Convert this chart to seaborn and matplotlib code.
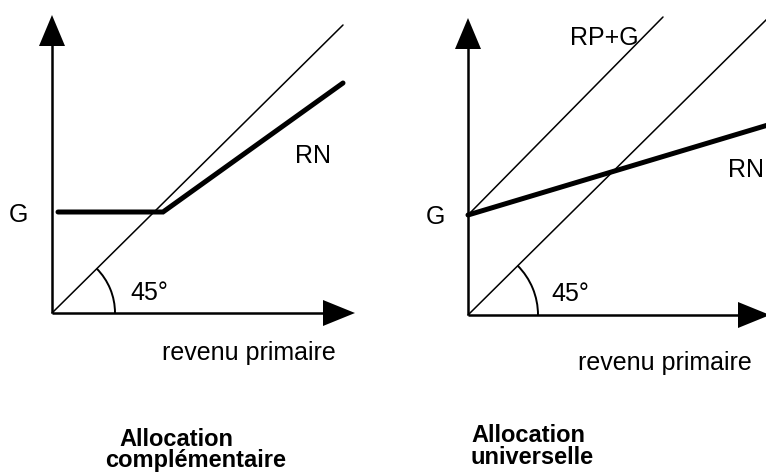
import matplotlib
matplotlib.use("Agg")
import matplotlib.pyplot as plt
import seaborn as sns
import pandas as pd
from matplotlib.patches import Polygon, Arc

sns.set_theme(style="white")
plt.rcParams['font.family'] = ['Liberation Sans', 'DejaVu Sans']
plt.rcParams['text.color'] = 'black'

# ---- data (panel coordinates: origin at axes corner, y upward, pixel units) ----
# Left panel: "Allocation complémentaire"
left_diag_x = [0, 291]
left_diag_y = [0, 288]
left_rn_x = [6, 111, 291]
left_rn_y = [101, 101, 230]
# Right panel: "Allocation universelle"
right_diag_x = [0, 300]
right_diag_y = [0, 297]
right_rpg_x = [0, 195]
right_rpg_y = [100, 298]
right_rn_x = [0, 300]
right_rn_y = [100, 190]

labels_axis = "revenu primaire"
title_left = ["Allocation", "complémentaire"]
title_right = ["Allocation", "universelle"]

W, H = 766, 476
fig = plt.figure(figsize=(W / 100, H / 100), dpi=100)
ax = fig.add_axes([0, 0, 1, 1])
ax.set_xlim(0, W)
ax.set_ylim(H, 0)
ax.axis("off")

O_L = (52, 313)
O_R = (468, 315)


def to_px(origin, xs, ys):
    return [origin[0] + x for x in xs], [origin[1] - y for y in ys]


def draw_line(origin, xs, ys, lw):
    px, py = to_px(origin, xs, ys)
    df = pd.DataFrame({"x": px, "y": py, "i": range(len(px))})
    sns.lineplot(data=df, x="x", y="y", sort=False, estimator=None, color="black",
                 lw=lw, ax=ax, solid_capstyle="round", solid_joinstyle="miter")


def axes_arrows(origin, ytip, xtip):
    ox, oy = origin
    ax.plot([ox, ox], [oy, ytip + 25], color="black", lw=1.8, solid_capstyle="butt")
    ax.plot([ox, xtip - 25], [oy, oy], color="black", lw=1.8, solid_capstyle="butt")
    ax.add_patch(Polygon([[ox, ytip], [ox - 13, ytip + 31], [ox + 13, ytip + 31]],
                         closed=True, color="black", lw=0))
    ax.add_patch(Polygon([[xtip, oy], [xtip - 32, oy - 13], [xtip - 32, oy + 13]],
                         closed=True, color="black", lw=0))


# Left panel
axes_arrows(O_L, 15, 355)
draw_line(O_L, left_diag_x, left_diag_y, 1.1)
draw_line(O_L, left_rn_x, left_rn_y, 3.6)
ax.add_patch(Arc(O_L, 2 * 63, 2 * 63, theta1=-45, theta2=0, color="black", lw=1.4))
ax.text(18, 215, "G", ha="center", va="center", fontsize=18)
ax.text(313, 156, "RN", ha="center", va="center", fontsize=18)
ax.text(149, 293, "45°", ha="center", va="center", fontsize=18)
ax.text(249, 353, labels_axis, ha="center", va="center", fontsize=18)
ax.text(176, 440, title_left[0], ha="center", va="center", fontsize=17, fontweight="bold")
ax.text(196, 461, title_left[1], ha="center", va="center", fontsize=17, fontweight="bold")

# Right panel
axes_arrows(O_R, 18, 770)
draw_line(O_R, right_diag_x, right_diag_y, 1.1)
draw_line(O_R, right_rpg_x, right_rpg_y, 1.1)
draw_line(O_R, right_rn_x, right_rn_y, 3.6)
ax.add_patch(Arc(O_R, 2 * 70, 2 * 70, theta1=-45, theta2=0, color="black", lw=1.4))
ax.text(435, 217, "G", ha="center", va="center", fontsize=18)
ax.text(746, 170, "RN", ha="center", va="center", fontsize=18)
ax.text(604, 38, "RP+G", ha="center", va="center", fontsize=18)
ax.text(570, 294, "45°", ha="center", va="center", fontsize=18)
ax.text(665, 363, labels_axis, ha="center", va="center", fontsize=18)
ax.text(471, 435, title_right[0], ha="left", va="center", fontsize=17, fontweight="bold")
ax.text(471, 457, title_right[1], ha="left", va="center", fontsize=17, fontweight="bold")

fig.savefig("out.png", dpi=100)
